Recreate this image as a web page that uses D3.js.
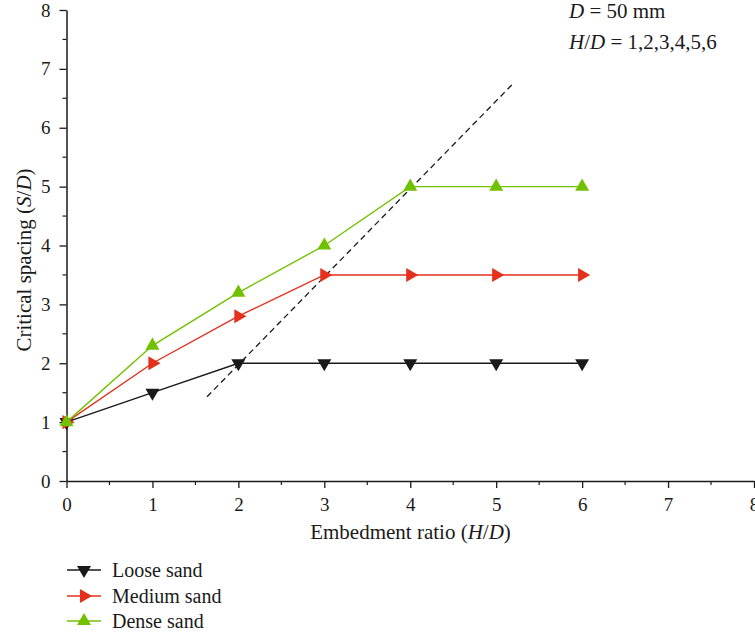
<!DOCTYPE html>
<html>
<head>
<meta charset="utf-8">
<script src="https://cdn.jsdelivr.net/npm/d3@7"></script>
<style>
  html, body { margin: 0; padding: 0; background: #fff; }
  svg { display: block; }
  text { font-family: "Liberation Serif", "Times New Roman", serif; fill: #1a1a1a; }
</style>
</head>
<body>
<script>
// ---- data ----
const xValues = [0, 1, 2, 3, 4, 5, 6];
const looseSand = [1, 1.5, 2, 2, 2, 2, 2];
const mediumSand = [1, 2, 2.8, 3.5, 3.5, 3.5, 3.5];
const denseSand = [1, 2.3, 3.2, 4, 5, 5, 5];
const seriesNames = ["Loose sand", "Medium sand", "Dense sand"];
const seriesColors = ["#1a1a1a", "#e3311d", "#72c100"];
const xTicks = [0, 1, 2, 3, 4, 5, 6, 7, 8];
const yTicks = [0, 1, 2, 3, 4, 5, 6, 7, 8];
const dashedLineX = [1.635, 5.19];
const dashedLineY = [1.43, 6.74];

const W = 755, H = 637;
const svg = d3.select("body").append("svg").attr("width", W).attr("height", H);

const x = d3.scaleLinear().domain([0, 8]).range([66.5, 754]);
const y = d3.scaleLinear().domain([0, 8]).range([481, 10]);

const FS_TICK = 19, FS_TITLE = 21, FS_LEG = 20, FS_ANN = 21;

// axes
const xAxis = d3.axisBottom(x).tickValues(xTicks).tickSize(7).tickSizeOuter(0).tickPadding(10).tickFormat(d3.format("d"));
const yAxis = d3.axisLeft(y).tickValues(yTicks).tickSize(7).tickSizeOuter(0).tickPadding(9).tickFormat(d3.format("d"));

const minorX = d3.range(0.5, 8, 1);
const minorY = d3.range(0.5, 8, 1);

const gx = svg.append("g").attr("transform", `translate(0,${y(0)})`).call(xAxis);
const gy = svg.append("g").attr("transform", `translate(${x(0)},0)`).call(yAxis);
[gx, gy].forEach(g => {
  g.attr("font-family", null);
  g.select(".domain").attr("stroke", "#1a1a1a").attr("stroke-width", 1.5);
  g.selectAll(".tick line").attr("stroke", "#1a1a1a").attr("stroke-width", 1.3);
  g.selectAll(".tick text").attr("font-size", FS_TICK).attr("fill", "#1a1a1a");
});
svg.append("g").selectAll("line").data(minorX).join("line")
  .attr("x1", d => x(d)).attr("x2", d => x(d))
  .attr("y1", y(0)).attr("y2", y(0) + 4)
  .attr("stroke", "#1a1a1a").attr("stroke-width", 1.2);
svg.append("g").selectAll("line").data(minorY).join("line")
  .attr("y1", d => y(d)).attr("y2", d => y(d))
  .attr("x1", x(0)).attr("x2", x(0) - 4)
  .attr("stroke", "#1a1a1a").attr("stroke-width", 1.2);

// axis titles
const xt = svg.append("text").attr("x", 410.5).attr("y", 539).attr("text-anchor", "middle").attr("font-size", FS_TITLE);
xt.append("tspan").text("Embedment ratio (");
xt.append("tspan").attr("font-style", "italic").text("H");
xt.append("tspan").text("/");
xt.append("tspan").attr("font-style", "italic").text("D");
xt.append("tspan").text(")");

const yt = svg.append("text").attr("transform", `translate(31,260) rotate(-90)`).attr("text-anchor", "middle").attr("font-size", FS_TITLE);
yt.append("tspan").text("Critical spacing (");
yt.append("tspan").attr("font-style", "italic").text("S");
yt.append("tspan").text("/");
yt.append("tspan").attr("font-style", "italic").text("D");
yt.append("tspan").text(")");

// dashed line
svg.append("line")
  .attr("x1", x(dashedLineX[0])).attr("y1", y(dashedLineY[0]))
  .attr("x2", x(dashedLineX[1])).attr("y2", y(dashedLineY[1]))
  .attr("stroke", "#1a1a1a").attr("stroke-width", 1.3).attr("stroke-dasharray", "6,4");

// series
const seriesData = [looseSand, mediumSand, denseSand];
const line = d3.line().x((d, i) => x(xValues[i])).y(d => y(d));
const tri = d3.symbol().type(d3.symbolTriangle).size(85);
const rotations = [180, 90, 0];

function marker(g, cx, cy, k) {
  g.append("path").attr("d", tri())
    .attr("transform", `translate(${cx},${cy}) rotate(${rotations[k]})`)
    .attr("fill", seriesColors[k]);
}

seriesData.forEach((vals, k) => {
  const g = svg.append("g");
  g.append("path").datum(vals).attr("d", line)
    .attr("fill", "none").attr("stroke", seriesColors[k]).attr("stroke-width", 1.4);
  vals.forEach((v, i) => marker(g, x(xValues[i]), y(v), k));
});

// annotations
const a1 = svg.append("text").attr("x", 569).attr("y", 18).attr("font-size", FS_ANN);
a1.append("tspan").attr("font-style", "italic").text("D");
a1.append("tspan").text(" = 50 mm");
const a2 = svg.append("text").attr("x", 569).attr("y", 49).attr("font-size", FS_ANN);
a2.append("tspan").attr("font-style", "italic").text("H");
a2.append("tspan").text("/");
a2.append("tspan").attr("font-style", "italic").text("D");
a2.append("tspan").text(" = 1,2,3,4,5,6");

// legend
const legY = [570, 596, 621];
seriesNames.forEach((name, k) => {
  const g = svg.append("g");
  g.append("line").attr("x1", 67).attr("x2", 101).attr("y1", legY[k]).attr("y2", legY[k])
    .attr("stroke", seriesColors[k]).attr("stroke-width", 1.4);
  marker(g, 84, legY[k], k);
  g.append("text").attr("x", 112).attr("y", legY[k] + 7).attr("font-size", FS_LEG).text(name);
});
</script>
</body>
</html>
